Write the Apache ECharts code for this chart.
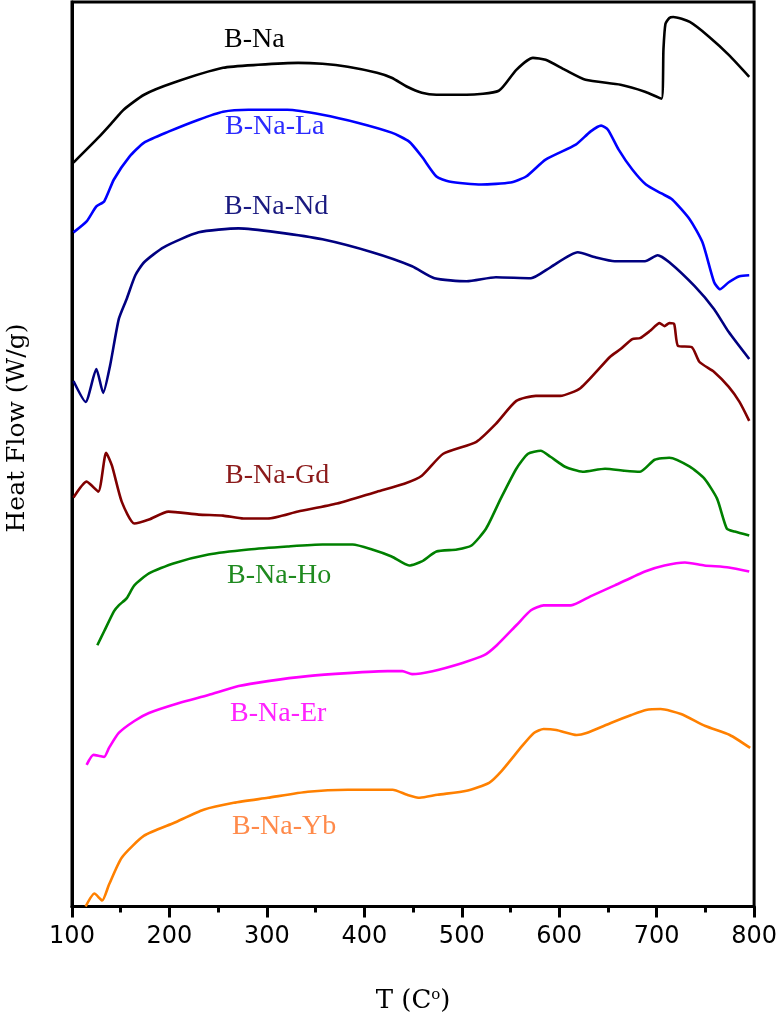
<!DOCTYPE html>
<html>
<head>
<meta charset="utf-8">
<title>DSC curves</title>
<script src="https://cdn.jsdelivr.net/npm/echarts@6/dist/echarts.min.js"></script>
<style>
    html, body { margin: 0; padding: 0; background: #fff; }
    #dsc_chart { width: 780px; height: 1019px; }
</style>
</head>
<body>
<div id="dsc_chart"></div>
<script>
    // x ticks (T, C)
    const tempTicks = [100, 200, 300, 400, 500, 600, 700, 800];

    // curves: [T, stacked heat flow offset (arb.)]
    const bNa = [[101.5,746],[128,772],[142,787],[153,799],[174,814],[204,826],[255,841],[291,844],[332,846],[357,845],[383,842],[413,836],[428,831],[444,822],[459,816],[474,814],[505,814],[538,818],[556,839],[573,851],[586,849],[606,839],[627,829],[663,824],[688,817],[705,810],[707,860],[709,885],[713,891],[717,892],[734,887],[754,872],[774,854],[795,832]];
    const bNaLa = [[101.5,676],[115,687],[125,702],[133,707],[143,729],[159,752],[174,766],[199,777],[230,789],[255,797],[281,799],[321,799],[357,794],[393,786],[428,776],[446,767],[459,752],[474,732],[487,727],[520,724],[550,726],[566,732],[586,749],[617,764],[632,777],[643,783],[650,779],[661,759],[675,739],[689,724],[705,715],[716,709],[734,689],[747,666],[759,626],[765,619],[774,626],[785,632],[795,633]];
    const bNaNd = [[101.5,527],[114,506],[125,539],[132,515],[139,542],[148,589],[156,609],[165,633],[174,646],[194,661],[230,676],[271,680],[311,676],[357,669],[408,656],[449,642],[472,630],[505,627],[535,631],[571,630],[591,641],[619,656],[637,651],[657,647],[688,647],[701,653],[713,646],[739,622],[759,599],[774,576],[795,549]];
    const bNaGd = [[101.5,410],[115,426],[127,416],[135,455],[141,442],[151,406],[164,384],[179,388],[199,396],[230,393],[255,392],[276,389],[301,389],[332,396],[372,404],[413,416],[441,424],[459,432],[481,454],[515,466],[535,484],[556,507],[576,512],[601,512],[622,520],[652,551],[663,559],[675,569],[683,570],[693,577],[703,585],[708,582],[713,585],[718,584],[722,562],[736,561],[744,546],[759,536],[774,521],[785,506],[795,487]];
    const bNaHo = [[126,262],[133,276],[143,296],[148,302],[156,309],[164,322],[179,334],[204,344],[240,353],[281,358],[321,361],[357,363],[388,363],[408,358],[428,351],[446,342],[459,346],[474,356],[495,358],[510,362],[525,379],[540,409],[556,439],[568,454],[581,457],[591,451],[606,441],[624,436],[647,439],[667,437],[683,436],[698,448],[713,450],[734,441],[749,429],[762,409],[772,379],[780,376],[795,372]];
    const bNaEr = [[115,142],[122,152],[128,151],[133,150],[138,159],[148,174],[164,186],[179,194],[210,204],[240,212],[271,221],[301,226],[342,231],[383,234],[424,236],[439,236],[449,233],[470,236],[500,244],[523,252],[536,262],[556,282],[571,297],[584,302],[612,302],[632,311],[657,322],[688,336],[708,342],[729,345],[749,342],[774,340],[795,336]];
    const bNaYb = [[114,0],[123,13],[131,6],[138,22],[151,49],[174,71],[205,84],[235,97],[266,104],[301,109],[342,115],[383,117],[429,117],[444,112],[457,109],[475,112],[505,116],[528,124],[541,136],[562,161],[574,174],[584,178],[597,177],[618,172],[628,174],[653,184],[674,192],[689,197],[704,198],[725,193],[750,181],[775,172],[796,159]];

    const seriesNames = ['B-Na', 'B-Na-La', 'B-Na-Nd', 'B-Na-Gd', 'B-Na-Ho', 'B-Na-Er', 'B-Na-Yb'];
    const seriesData = [bNa, bNaLa, bNaNd, bNaGd, bNaHo, bNaEr, bNaYb];
    const lineColors = ['#000000', '#0000ff', '#000080', '#800000', '#008000', '#ff00ff', '#ff8000'];
    const labelColors = ['#000000', '#2b2bff', '#1a1a80', '#8b1a1a', '#1f8a1f', '#ff22ff', '#ff8a4a'];
    // label anchor (left x, middle y) in page pixels
    const labelPos = [[224, 42], [225, 129], [224, 209], [225, 478], [227, 578], [230, 716], [232, 829]];

    let myChart = echarts.init(document.getElementById('dsc_chart'));

    let series = seriesData.map((d, i) => ({
        name: seriesNames[i],
        type: 'line',
        data: d,
        showSymbol: false,
        smooth: 0.2,
        lineStyle: { color: lineColors[i], width: 2.6 },
        animation: false
    }));

    let labels = seriesNames.map((n, i) => ({
        type: 'text',
        left: labelPos[i][0],
        top: labelPos[i][1] - 16,
        style: {
            text: n,
            fill: labelColors[i],
            font: '28px "Liberation Serif", serif'
        }
    }));

    myChart.setOption({
        animation: false,
        grid: {
            left: 72, right: 24, top: 2, bottom: 110,
            show: true, borderColor: '#000', borderWidth: 3
        },
        xAxis: {
            type: 'value',
            min: tempTicks[0],
            max: tempTicks[tempTicks.length - 1],
            interval: 100,
            name: '{a|T (C}{s|o}{a|)}',
            nameLocation: 'middle',
            nameGap: 81,
            nameTextStyle: {
                rich: {
                    a: { fontFamily: 'DejaVu Serif', fontSize: 26, color: '#000' },
                    s: { fontFamily: 'DejaVu Serif', fontSize: 15, color: '#000', verticalAlign: 'top', padding: [0, 0, 12, 0] }
                }
            },
            axisLine: { lineStyle: { color: '#000', width: 3 } },
            axisTick: { length: 11, lineStyle: { color: '#000', width: 3 } },
            minorTick: { show: true, splitNumber: 2, length: 6, lineStyle: { color: '#000', width: 3 } },
            splitLine: { show: false },
            axisLabel: { color: '#000', fontFamily: 'DejaVu Sans', fontSize: 24, margin: 18 }
        },
        yAxis: {
            type: 'value',
            min: 0,
            max: 907,
            axisLine: { show: true, lineStyle: { color: '#000', width: 3 } },
            axisTick: { show: false },
            axisLabel: { show: false },
            splitLine: { show: false }
        },
        graphic: labels.concat([{
            type: 'text',
            x: 17,
            y: 428,
            rotation: Math.PI / 2,
            style: {
                text: 'Heat Flow (W/g)',
                fill: '#000',
                font: '25px "DejaVu Serif", serif',
                align: 'center',
                verticalAlign: 'middle'
            }
        }]),
        series: series
    });
</script>
</body>
</html>
